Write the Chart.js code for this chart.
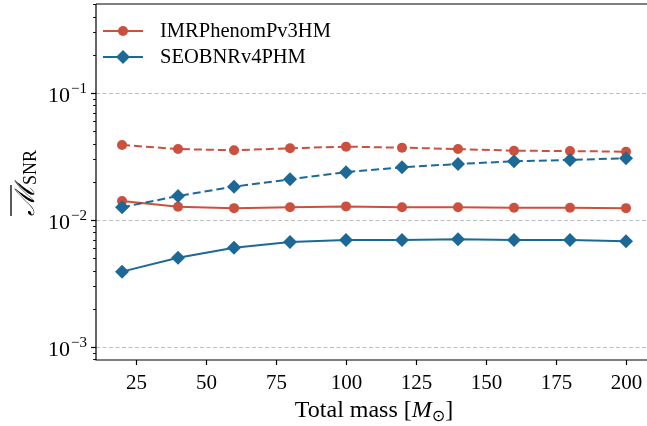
<!DOCTYPE html>
<html>
<head>
<meta charset="utf-8">
<script src="https://cdn.jsdelivr.net/npm/chart.js@4/dist/chart.umd.min.js"></script>
<style>
  html, body { margin: 0; padding: 0; background: #fff; overflow: hidden; }
  #wrap { width: 647px; height: 426px; }
</style>
</head>
<body>
<div id="wrap"><canvas id="chart" width="647" height="426"></canvas></div>
<script>
// total mass values (x)
const masses = [20, 40, 60, 80, 100, 120, 140, 160, 180, 200];

// mismatch values
const imrDashed = [0.0390, 0.0362, 0.0354, 0.0367, 0.0378, 0.0371, 0.0362, 0.0351, 0.0349, 0.0345];
const imrSolid = [0.0141, 0.0127, 0.0124, 0.0126, 0.0128, 0.0126, 0.0126, 0.0125, 0.0125, 0.0124];
const seobDashed = [0.0126, 0.01545, 0.0183, 0.0209, 0.0238, 0.0260, 0.0276, 0.0290, 0.0297, 0.0306];
const seobSolid = [0.00392, 0.00505, 0.00605, 0.00671, 0.00696, 0.00696, 0.00705, 0.00696, 0.00696, 0.00680];

const legendNames = ["IMRPhenomPv3HM", "SEOBNRv4PHM"];
const xTicks = [25, 50, 75, 100, 125, 150, 175, 200];
const yMajor = [1e-3, 1e-2, 1e-1];
const yExponents = ["\u22123", "\u22122", "\u22121"];

const RED = "#cc503e";
const BLUE = "#1d6996";
const FONT = "'Liberation Serif', 'DejaVu Serif', serif";

const toPoints = (vals) => masses.map((m, i) => ({ x: m, y: vals[i] }));

function series(label, vals, color, shape, dashed) {
  return {
    label: label,
    data: toPoints(vals),
    borderColor: color,
    backgroundColor: color,
    borderWidth: 2,
    borderDash: dashed ? [8, 4] : [],
    pointStyle: shape,
    pointRadius: shape === "circle" ? 5 : 7,
    pointBorderWidth: 0,
    tension: 0,
  };
}

// draws grid, spines, ticks, labels, titles and the legend
const decor = {
  id: "decor",
  beforeDatasetsDraw(chart) {
    const { ctx, chartArea: a, scales } = chart;
    ctx.save();
    ctx.strokeStyle = "#b8b8b8";
    ctx.lineWidth = 0.9;
    ctx.setLineDash([4, 2.5]);
    yMajor.forEach((v) => {
      const py = Math.round(scales.y.getPixelForValue(v)) + 0.5;
      ctx.beginPath();
      ctx.moveTo(a.left, py);
      ctx.lineTo(a.right, py);
      ctx.stroke();
    });
    ctx.restore();
  },
  afterDatasetsDraw(chart) {
    const { ctx, chartArea: a, scales } = chart;
    const x = scales.x, y = scales.y;
    ctx.save();
    ctx.strokeStyle = "#000";
    ctx.fillStyle = "#000";
    ctx.lineWidth = 1.2;

    // spines
    ctx.beginPath();
    ctx.moveTo(a.left, a.top);
    ctx.lineTo(a.right, a.top);
    ctx.moveTo(a.left, a.top);
    ctx.lineTo(a.left, a.bottom);
    ctx.lineTo(a.right, a.bottom);
    ctx.stroke();

    // x ticks
    ctx.font = "21px " + FONT;
    ctx.textAlign = "center";
    ctx.textBaseline = "middle";
    xTicks.forEach((v) => {
      const px = Math.round(x.getPixelForValue(v)) + 0.5;
      ctx.beginPath();
      ctx.moveTo(px, a.bottom);
      ctx.lineTo(px, a.bottom + 5);
      ctx.stroke();
      ctx.fillText(String(v), px, a.bottom + 23);
    });

    // y minor ticks
    ctx.lineWidth = 0.9;
    for (let d = -4; d <= 0; d++) {
      for (let k = 2; k <= 9; k++) {
        const v = k * Math.pow(10, d);
        if (v < y.min || v > y.max) continue;
        const py = Math.round(y.getPixelForValue(v)) + 0.5;
        ctx.beginPath();
        ctx.moveTo(a.left, py);
        ctx.lineTo(a.left - 3, py);
        ctx.stroke();
      }
    }
    // y major ticks and labels
    ctx.lineWidth = 1.2;
    yMajor.forEach((v, i) => {
      const py = Math.round(y.getPixelForValue(v)) + 0.5;
      ctx.beginPath();
      ctx.moveTo(a.left, py);
      ctx.lineTo(a.left - 5, py);
      ctx.stroke();
      ctx.textAlign = "right";
      ctx.textBaseline = "alphabetic";
      ctx.font = "15px " + FONT;
      const ew = ctx.measureText(yExponents[i]).width;
      ctx.fillText(yExponents[i], a.left - 9, py - 1);
      ctx.font = "22px " + FONT;
      ctx.fillText("10", a.left - 10 - ew, py + 8);
    });

    // x axis title
    ctx.textBaseline = "alphabetic";
    ctx.textAlign = "left";
    const parts = [
      ["Total mass [", "24px " + FONT, 0],
      ["M", "italic 24px " + FONT, 0],
      ["\u2299", "16px 'DejaVu Sans', sans-serif", 4],
      ["]", "24px " + FONT, 0],
    ];
    let total = 0;
    parts.forEach((p) => { ctx.font = p[1]; total += ctx.measureText(p[0]).width; });
    let cx = 374 - total / 2;
    parts.forEach((p) => {
      ctx.font = p[1];
      ctx.fillText(p[0], cx, 417 + p[2]);
      cx += ctx.measureText(p[0]).width;
    });

    // y axis title (rotated)
    ctx.save();
    ctx.translate(34, 183);
    ctx.rotate(-Math.PI / 2);
    ctx.font = "italic 27px " + FONT;
    const mw = ctx.measureText("\u2133").width;
    ctx.font = "18px " + FONT;
    const sw = ctx.measureText("SNR").width;
    const start = -(mw + sw) / 2;
    ctx.font = "italic 27px " + FONT;
    ctx.fillText("\u2133", start, 0);
    ctx.lineWidth = 1.3;
    ctx.beginPath();
    ctx.moveTo(start, -23);
    ctx.lineTo(start + mw, -23);
    ctx.stroke();
    ctx.font = "18px " + FONT;
    ctx.fillText("SNR", start + mw, 2);
    ctx.restore();

    // legend
    const legend = [[RED, "circle"], [BLUE, "rectRot"]];
    legend.forEach((l, i) => {
      const ly = 31 + i * 26;
      ctx.strokeStyle = l[0];
      ctx.fillStyle = l[0];
      ctx.lineWidth = 2;
      ctx.setLineDash([]);
      ctx.beginPath();
      ctx.moveTo(103, ly);
      ctx.lineTo(143, ly);
      ctx.stroke();
      Chart.helpers.drawPoint(ctx, { pointStyle: l[1], radius: l[1] === "circle" ? 5 : 7, borderWidth: 0 }, 123, ly);
      ctx.fillStyle = "#000";
      ctx.font = "20.5px " + FONT;
      ctx.textAlign = "left";
      ctx.textBaseline = "middle";
      ctx.fillText(legendNames[i], 160, ly + 1);
    });
    ctx.restore();
  },
};

new Chart(document.getElementById("chart"), {
  type: "line",
  data: {
    datasets: [
      series(legendNames[1] + " dashed", seobDashed, BLUE, "rectRot", true),
      series(legendNames[1], seobSolid, BLUE, "rectRot", false),
      series(legendNames[0] + " dashed", imrDashed, RED, "circle", true),
      series(legendNames[0], imrSolid, RED, "circle", false),
    ],
  },
  options: {
    responsive: false,
    animation: false,
    devicePixelRatio: 1,
    layout: { autoPadding: false, padding: { top: 4, right: 0, left: 0, bottom: 0 } },
    plugins: { legend: { display: false }, tooltip: { enabled: false } },
    scales: {
      x: {
        type: "linear",
        min: 10.7,
        max: 207.5,
        grid: { display: false },
        border: { display: false },
        ticks: { display: false },
        afterFit: (s) => { s.height = 66; },
      },
      y: {
        type: "logarithmic",
        min: 7.9e-4,
        max: 0.502,
        grid: { display: false },
        border: { display: false },
        ticks: { display: false },
        afterFit: (s) => { s.width = 96; },
      },
    },
  },
  plugins: [decor],
});
</script>
</body>
</html>
